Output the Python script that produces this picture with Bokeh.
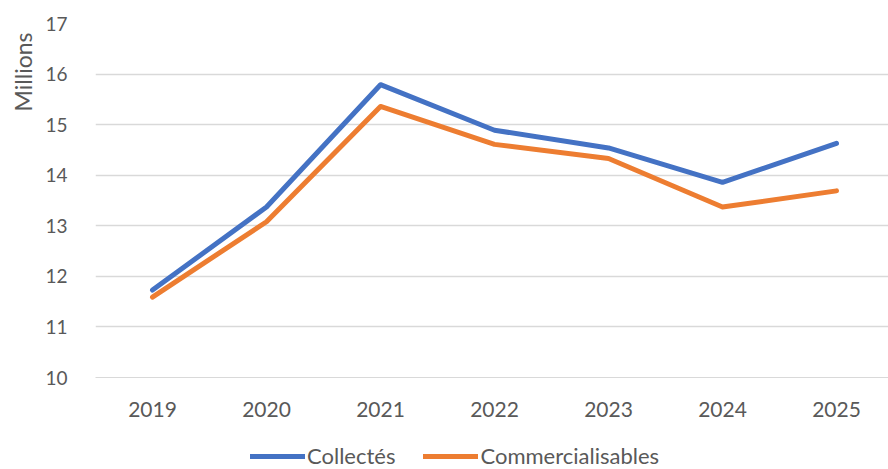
from bokeh.plotting import figure
from bokeh.layouts import column
from bokeh.models import FactorRange, Range1d, Legend, LegendItem, SingleIntervalTicker, Title
from bokeh.embed import file_html
from bokeh.resources import INLINE

years = ["2019", "2020", "2021", "2022", "2023", "2024", "2025"]
collectes = [11.73, 13.37, 15.79, 14.89, 14.54, 13.86, 14.63]
commercialisables = [11.59, 13.08, 15.36, 14.61, 14.33, 13.37, 13.69]
series_names = ["Collectés", "Commercialisables"]

FONT = "Lato"
GREY = "#595959"
BLUE = "#4472C4"
ORANGE = "#ED7D31"

p = figure(frame_width=798, frame_height=354, x_range=FactorRange(*years), y_range=Range1d(10, 17),
           output_backend="svg", toolbar_location=None,
           min_border_left=90, min_border_top=23, min_border_right=0, min_border_bottom=60)
p.outline_line_color = None
p.background_fill_color = "white"
p.border_fill_color = "white"

p.line(years, collectes, line_color=BLUE, line_width=5, line_join="round", line_cap="round")
p.line(years, commercialisables, line_color=ORANGE, line_width=5, line_join="round", line_cap="round")

p.xgrid.grid_line_color = None
p.ygrid.grid_line_color = "#D9D9D9"
p.ygrid.grid_line_width = 1.5

p.yaxis.ticker = SingleIntervalTicker(interval=1)
p.yaxis.axis_line_color = None
p.yaxis.major_tick_line_color = None
p.yaxis.minor_tick_line_color = None
p.yaxis.major_label_text_font = FONT
p.yaxis.major_label_text_font_size = "19px"
p.yaxis.major_label_text_color = GREY
p.yaxis.major_label_standoff = 22

ytitle = Title(text="Millions", align="right", offset=9, standoff=12,
               text_font=FONT, text_font_size="23px", text_font_style="normal", text_color=GREY)
p.add_layout(ytitle, "left")

p.xaxis.axis_line_color = "#D9D9D9"
p.xaxis.major_tick_line_color = None
p.xaxis.minor_tick_line_color = None
p.xaxis.major_label_text_font = FONT
p.xaxis.major_label_text_font_size = "21px"
p.xaxis.major_label_text_color = GREY
p.xaxis.major_label_standoff = 18

# legend strip (lines drawn outside its visible range; only the legend shows)
lf = figure(width=888, height=32, x_range=FactorRange(*years), y_range=Range1d(100, 101),
            output_backend="svg", toolbar_location=None,
            min_border_left=0, min_border_right=0, min_border_top=0, min_border_bottom=0)
lf.axis.visible = False
lf.grid.visible = False
lf.outline_line_color = None
lf.border_fill_color = "white"
l1 = lf.line(years, collectes, line_color=BLUE, line_width=5, line_cap="round")
l2 = lf.line(years, commercialisables, line_color=ORANGE, line_width=5, line_cap="round")

legend = Legend(items=[LegendItem(label=series_names[0], renderers=[l1]),
                       LegendItem(label=series_names[1], renderers=[l2])],
                orientation="horizontal", location=(155, 0),
                label_text_font=FONT, label_text_font_size="22px", label_text_color=GREY,
                label_height=20, glyph_width=55, glyph_height=20, label_standoff=2, spacing=28,
                border_line_color=None, background_fill_alpha=0, margin=0, padding=0)
lf.add_layout(legend, "center")

layout = column(p, lf, spacing=0)
open("out.html", "w").write(file_html(layout, INLINE))
